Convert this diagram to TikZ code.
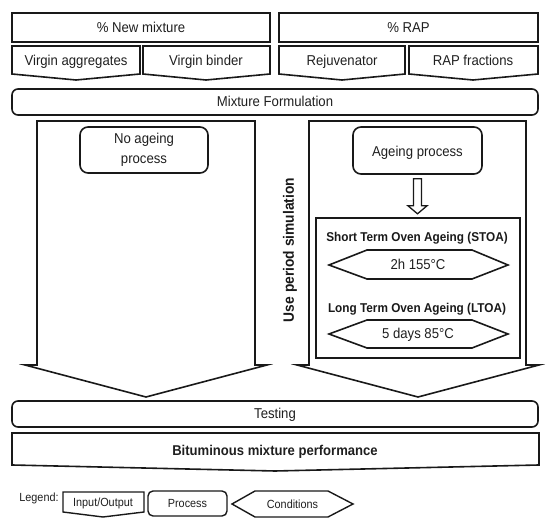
\documentclass[tikz,border=0pt]{standalone}
\usepackage{fontspec}
\setmainfont[FakeStretch=0.92]{Liberation Sans}
\usetikzlibrary{calc}
\begin{document}
\begin{tikzpicture}[x=1pt,y=-1pt,
  outl/.style={draw=black!90,line width=1.6pt,line join=miter},
  rbox/.style={outl,rectangle,inner sep=0pt},
  rndbox/.style={outl,rectangle,rounded corners=6pt,inner sep=0pt},
  lbl0/.style={text=black!88,font=\fontsize{14.3}{16.5}\selectfont,inner sep=0pt,align=center},
  lbl/.style={lbl0,text height=12pt,text depth=2pt},
  blbl/.style={text=black!90,font=\fontsize{12.8}{15}\selectfont\bfseries,inner sep=0pt,text height=10.8pt,text depth=1.8pt},
  leg/.style={text=black!88,font=\fontsize{11.8}{14}\selectfont,inner sep=0pt,text height=10pt,text depth=1.6pt}]
\useasboundingbox (0,0) rectangle (550,529);

% top input boxes
\node[rbox,minimum width=258pt,minimum height=29pt] (newmix) at (141,27.5) {};
\node[lbl] (newmixt) at (newmix.center) {\% New mixture};
\node[rbox,minimum width=259pt,minimum height=29pt] (rap) at (408.5,27.5) {};
\node[lbl] (rapt) at (rap.center) {\% RAP};

% input/output pentagons
\draw[outl] (12,46) -- (140,46) -- (140,74) -- (76,80) -- (12,74) -- cycle;
\node[lbl] (va) at (76,61) {Virgin aggregates};
\draw[outl] (143,46) -- (270,46) -- (270,74) -- (206,80) -- (143,74) -- cycle;
\node[lbl] (vb) at (206,61) {Virgin binder};
\draw[outl] (279,46) -- (405,46) -- (405,74) -- (342,80) -- (279,74) -- cycle;
\node[lbl] (rej) at (342,61) {Rejuvenator};
\draw[outl] (409,46) -- (538,46) -- (538,74) -- (473,80) -- (409,74) -- cycle;
\node[lbl] (rapf) at (473,61) {RAP fractions};

% mixture formulation
\node[rndbox,minimum width=526pt,minimum height=26pt] (mf) at (275,102) {};
\node[lbl] (mft) at (mf.center) {Mixture Formulation};

% big arrows
\draw[outl] (37,121) -- (255,121) -- (255,365) -- (267,365) -- (146,397) -- (25,365) -- (37,365) -- cycle;
\draw[outl] (309,121) -- (526,121) -- (526,365) -- (539,365) -- (418,397) -- (297,365) -- (309,365) -- cycle;

% processes
\node[rndbox,rounded corners=8pt,minimum width=128pt,minimum height=46pt] (noage) at (144,150) {};
\node[lbl0,font=\fontsize{14.3}{20}\selectfont] (noaget) at (noage.center) {No ageing\\process};
\node[rndbox,rounded corners=8pt,minimum width=129pt,minimum height=47pt] (age) at (417.5,150.5) {};
\node[lbl] (aget) at ($(age.center)+(0,1)$) {Ageing process};

% conditions container
\node[outl,rectangle,line width=1.8pt,minimum width=204pt,minimum height=140pt,inner sep=0pt] (inner) at (418,288) {};

% hollow arrow
\draw[outl,line width=1.3pt] ($(age.south)+(-4,4)$) -- ++(8,0) -- ++(0,27) -- ++(5.5,0)
  -- ($(age.south)+(0,39)$) -- ($(age.south)+(-9.5,31)$) -- ++(5.5,0) -- cycle;

\node[blbl] (stoa) at (417,237) {Short Term Oven Ageing (STOA)};
\draw[outl] (329,265) -- (367,250) -- (472,250) -- (508,265) -- (472,279) -- (367,279) -- cycle;
\node[lbl] (c1) at (418,265) {2h 155\textdegree C};
\node[blbl] (ltoa) at (417,308) {Long Term Oven Ageing (LTOA)};
\draw[outl] (329,334) -- (367,320) -- (472,320) -- (508,334) -- (472,348) -- (367,348) -- cycle;
\node[lbl] (c2) at (418,334) {5 days 85\textdegree C};

\node[text=black!90,font=\fontsize{15}{17}\selectfont\bfseries,inner sep=0pt,rotate=90] (ups) at (290,250) {Use period simulation};

% testing
\node[rndbox,minimum width=526pt,minimum height=26pt] (test) at (275,414) {};
\node[lbl] (testt) at (test.center) {Testing};

% output
\draw[outl] (12,433) -- (539,433) -- (539,465) -- (275,471) -- (12,465) -- cycle;
\node[lbl,font=\fontsize{14.2}{16}\selectfont\bfseries] (bmp) at (275,451) {Bituminous mixture performance};

% legend
\node[leg] (legt) at (39,497) {Legend:};
\draw[outl,line width=1.4pt] (63,492) -- (144,492) -- (144,512) -- (103,517) -- (63,512) -- cycle;
\node[leg] (lio) at (103,502.5) {Input/Output};
\node[rndbox,line width=1.4pt,rounded corners=5pt,minimum width=79pt,minimum height=25pt] (lproc) at (187.5,503.5) {};
\node[leg] (lproct) at (lproc.center) {Process};
\draw[outl,line width=1.4pt] (232,504) -- (255,491) -- (328,491) -- (353,504) -- (328,517) -- (255,517) -- cycle;
\node[leg] (lcond) at (292.5,504) {Conditions};
\end{tikzpicture}
\end{document}
